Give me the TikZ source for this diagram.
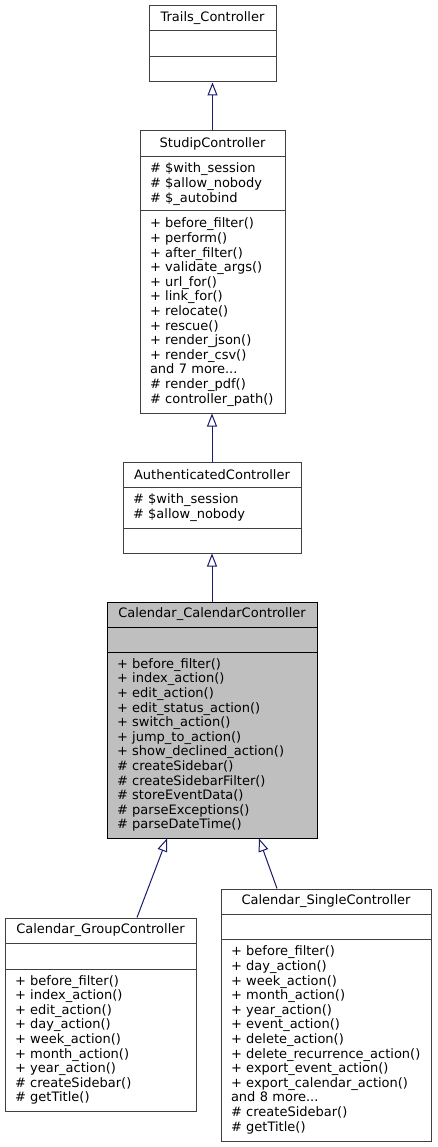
\documentclass[tikz,border=0pt]{standalone}
\usepackage{fontspec}
\setmainfont{DejaVu Sans}
\usetikzlibrary{arrows.meta,calc}
\definecolor{boxline}{HTML}{404040}
\definecolor{edgecol}{HTML}{191970}
\definecolor{curfill}{HTML}{BFBFBF}
\newcommand\clsfont{\fontsize{13}{14.6}\selectfont}
\tikzset{
  box/.style={draw=boxline, fill=white, line width=1pt, inner sep=0pt, font=\clsfont},
  ttl/.style={box, align=center},
  mem/.style={box, align=left, inner xsep=10pt, inner ysep=0pt},
  cur/.style={fill=curfill, draw=black},
  inh/.style={draw=edgecol, line width=1pt, -{Triangle[open, length=13pt, width=10pt]}}
}
\begin{document}
\begin{tikzpicture}[x=1pt, y=-1pt]
\useasboundingbox (0,0) rectangle (437,1147);
\fill[white] (0,0) rectangle (437,1147);

% Trails_Controller
\node[ttl, minimum width=127pt, minimum height=25pt] (trT) at (212.5,18.5) {Trails\_Controller};
\node[mem, minimum width=127pt, minimum height=26pt, text width=107pt] (trA) at (212.5,44) {};
\node[mem, minimum width=127pt, minimum height=25pt, text width=107pt] (trM) at (212.5,69.5) {};

% StudipController
\node[ttl, minimum width=145pt, minimum height=26pt] (stT) at (212.5,144) {StudipController};
\node[mem, minimum width=145pt, minimum height=54pt, text width=125pt] (stA) at (212.5,184)
  {\#~\$with\_session\\\#~\$allow\_nobody\\\#~\$\_autobind};
\node[mem, minimum width=145pt, minimum height=202pt, text width=125pt] (stM) at (212.5,312)
  {+~before\_filter()\\+~perform()\\+~after\_filter()\\+~validate\_args()\\+~url\_for()\\+~link\_for()\\+~relocate()\\+~rescue()\\+~render\_json()\\+~render\_csv()\\and 7 more...\\\#~render\_pdf()\\\#~controller\_path()};

% AuthenticatedController
\node[ttl, minimum width=178pt, minimum height=25pt] (auT) at (212,474.5) {AuthenticatedController};
\node[mem, minimum width=178pt, minimum height=41pt, text width=158pt] (auA) at (212,507.5)
  {\#~\$with\_session\\\#~\$allow\_nobody};
\node[mem, minimum width=178pt, minimum height=25pt, text width=158pt] (auM) at (212,540.5) {};

% Calendar_CalendarController
\node[ttl, cur, minimum width=210pt, minimum height=25pt] (caT) at (212,614.5) {Calendar\_CalendarController};
\node[mem, cur, minimum width=210pt, minimum height=25pt, text width=190pt] (caA) at (212,639.5) {};
\node[mem, cur, minimum width=210pt, minimum height=186pt, text width=190pt] (caM) at (212,745)
  {+~before\_filter()\\+~index\_action()\\+~edit\_action()\\+~edit\_status\_action()\\+~switch\_action()\\+~jump\_to\_action()\\+~show\_declined\_action()\\\#~createSidebar()\\\#~createSidebarFilter()\\\#~storeEventData()\\\#~parseExceptions()\\\#~parseDateTime()};

% Calendar_GroupController
\node[ttl, minimum width=191pt, minimum height=25pt] (grT) at (100.5,930.5) {Calendar\_GroupController};
\node[mem, minimum width=191pt, minimum height=26pt, text width=171pt] (grA) at (100.5,956) {};
\node[mem, minimum width=191pt, minimum height=142pt, text width=171pt] (grM) at (100.5,1040)
  {+~before\_filter()\\+~index\_action()\\+~edit\_action()\\+~day\_action()\\+~week\_action()\\+~month\_action()\\+~year\_action()\\\#~createSidebar()\\\#~getTitle()};

% Calendar_SingleController
\node[ttl, minimum width=210pt, minimum height=25pt] (siT) at (326,901.5) {Calendar\_SingleController};
\node[mem, minimum width=210pt, minimum height=25pt, text width=190pt] (siA) at (326,926.5) {};
\node[mem, minimum width=210pt, minimum height=202pt, text width=190pt] (siM) at (326,1040)
  {+~before\_filter()\\+~day\_action()\\+~week\_action()\\+~month\_action()\\+~year\_action()\\+~event\_action()\\+~delete\_action()\\+~delete\_recurrence\_action()\\+~export\_event\_action()\\+~export\_calendar\_action()\\and 8 more...\\\#~createSidebar()\\\#~getTitle()};

% inheritance connectors
\draw[inh] (stT.north) -- (trM.south);
\draw[inh] (auT.north) -- (auT.north |- stM.south);
\draw[inh] (caT.north) -- (auM.south);
\draw[inh] ([xshift=36.5pt]grT.north) -- ([xshift=-45pt]caM.south);
\draw[inh] ([xshift=-49pt]siT.north) -- ([xshift=47pt]caM.south);
\end{tikzpicture}
\end{document}
